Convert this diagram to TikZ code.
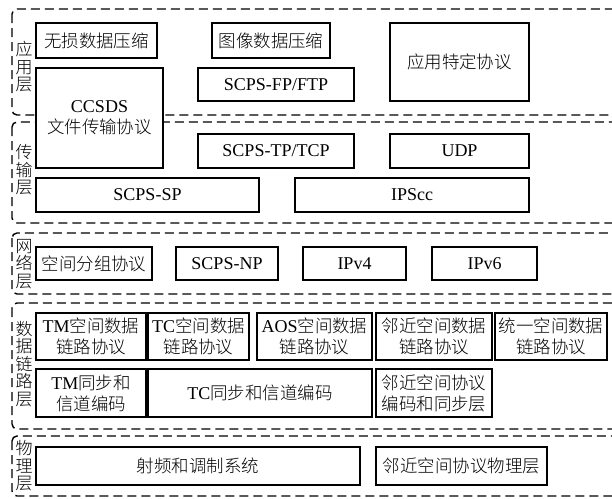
\documentclass[tikz,border=0pt]{standalone}
\usepackage{fontspec}
\setmainfont{Liberation Serif}
\newfontfamily\cjk[Scale=0.97]{Noto Sans CJK SC Light}
\newcommand{\zh}[1]{{\cjk #1}}
\tikzset{
  layer/.style={draw, line width=1.4pt, dash pattern=on 9pt off 5pt, rounded corners=5pt},
  proto/.style={draw, line width=1.1pt, align=center, inner sep=0pt, font=\fontsize{18}{21}\selectfont},
  lbl/.style={align=center, text width=18pt, inner sep=0pt, font=\fontsize{17.5}{17.5}\selectfont\cjk},
}
\begin{document}
\begin{tikzpicture}[x=1pt, y=-1pt]
        \useasboundingbox (0,0) rectangle (612,498);
        \clip (0,0) rectangle (612,498);
        % layers
        \draw[layer] (12,9) rectangle (640,115);
        \draw[layer] (12,122) rectangle (640,223);
        \draw[layer] (12,233) rectangle (640,294);
        \draw[layer] (12,303) rectangle (640,429);
        \draw[layer] (12,436) rectangle (640,496);
        
        \node[lbl] (lapp) at (24,67) {应\\用\\层};
        \node[lbl] (ltrans) at (24,170) {传\\输\\层};
        \node[lbl] (lnet) at (24,264) {网\\络\\层};
        \node[lbl] (llink) at (24,364) {数\\据\\链\\路\\层};
        \node[lbl] (lphy) at (24,466) {物\\理\\层};
        
        % application layer
        \node[proto, minimum width=121pt, minimum height=35pt] (lossless) at (96.5,40.5) {\zh{无损数据压缩}};
        \node[proto, minimum width=118pt, minimum height=35pt] (image) at (271,40.5) {\zh{图像数据压缩}};
        \node[proto, minimum width=156pt, minimum height=33pt] (fp) at (276,84.5) {SCPS-FP/FTP};
        \node[proto, minimum width=139pt, minimum height=78pt] (specific) at (459.5,62) {\zh{应用特定协议}};
        \node[proto, minimum width=127pt, minimum height=100pt, fill=white] (cfdp) at (99.5,118) {CCSDS\\\zh{文件传输协议}};
        
        % transport layer
        \node[proto, minimum width=156pt, minimum height=34pt] (tp) at (276,151) {SCPS-TP/TCP};
        \node[proto, minimum width=139pt, minimum height=34pt] (udp) at (459.5,151) {UDP};
        \node[proto, minimum width=223pt, minimum height=34pt] (sp) at (147.5,195) {SCPS-SP};
        \node[proto, minimum width=234pt, minimum height=34pt] (ipscc) at (412,195) {IPScc};
        
        % network layer
        \node[proto, minimum width=116pt, minimum height=33pt] (spp) at (94,263.5) {\zh{空间分组协议}};
        \node[proto, minimum width=102pt, minimum height=33pt] (np) at (227,263.5) {SCPS-NP};
        \node[proto, minimum width=103pt, minimum height=33pt] (ipv4) at (354.5,263.5) {IPv4};
        \node[proto, minimum width=105pt, minimum height=33pt] (ipv6) at (484.5,263.5) {IPv6};
        
        % data link layer
        \node[proto, minimum width=110pt, minimum height=47pt] (tm) at (91,336.5) {TM\zh{空间数据}\\\zh{链路协议}};
        \node[proto, minimum width=101pt, minimum height=47pt] (tc) at (198.5,336.5) {TC\zh{空间数据}\\\zh{链路协议}};
        \node[proto, minimum width=115pt, minimum height=47pt] (aos) at (314.5,336.5) {AOS\zh{空间数据}\\\zh{链路协议}};
        \node[proto, minimum width=116pt, minimum height=47pt] (prox) at (434,336.5) {\zh{邻近空间数据}\\\zh{链路协议}};
        \node[proto, minimum width=112pt, minimum height=47pt] (usl) at (551,336.5) {\zh{统一空间数据}\\\zh{链路协议}};
        \node[proto, minimum width=110pt, minimum height=48pt] (tmsync) at (91,393) {TM\zh{同步和}\\\zh{信道编码}};
        \node[proto, minimum width=224pt, minimum height=48pt] (tcsync) at (260,393) {TC\zh{同步和信道编码}};
        \node[proto, minimum width=116pt, minimum height=48pt] (proxsync) at (434,393) {\zh{邻近空间协议}\\\zh{编码和同步层}};
        
        % physical layer
        \node[proto, minimum width=324pt, minimum height=38pt] (rf) at (198,466) {\zh{射频和调制系统}};
        \node[proto, minimum width=171pt, minimum height=38pt] (proxphy) at (461.5,466) {\zh{邻近空间协议物理层}};
    \end{tikzpicture}
\end{document}
